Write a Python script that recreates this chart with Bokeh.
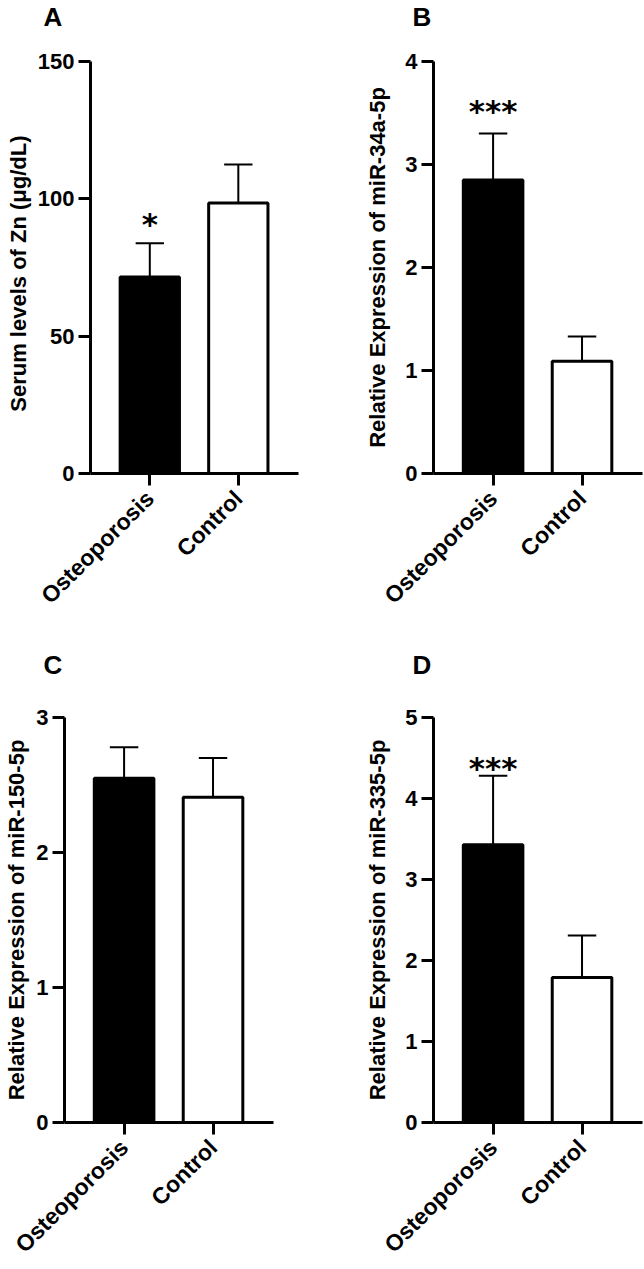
from math import pi

from bokeh.embed import file_html
from bokeh.layouts import column, row
from bokeh.models import FixedTicker, Range1d, Title
from bokeh.plotting import figure
from bokeh.resources import INLINE
from bokeh.core.properties import value

# ---- data -----------------------------------------------------------------
groups = ["Osteoporosis", "Control"]
bar_fill = ["black", "white"]

zn_mean = [71.5, 98.5]          # serum Zn, ug/dL
zn_sem = [12.3, 14.0]
zn_sig = ["*", ""]
zn_ticks = [0, 50, 100, 150]

mir34a_mean = [2.85, 1.09]
mir34a_sem = [0.45, 0.24]
mir34a_sig = ["***", ""]
mir34a_ticks = [0, 1, 2, 3, 4]

mir150_mean = [2.55, 2.41]
mir150_sem = [0.23, 0.29]
mir150_sig = ["", ""]
mir150_ticks = [0, 1, 2, 3]

mir335_mean = [3.43, 1.79]
mir335_sem = [0.85, 0.52]
mir335_sig = ["***", ""]
mir335_ticks = [0, 1, 2, 3, 4, 5]

FONT = "Liberation Sans"
BAR_W = 0.67
CAP_HALF = 0.16


def panel(letter, ylabel, means, sems, sig, ticks, width, height,
          left, right, top, bottom, letter_offset, letter_gap,
          sig_offset, label_standoff):
    p = figure(width=width, height=height, output_backend="svg",
               toolbar_location=None, tools="",
               x_range=Range1d(-0.67, 1.68),
               y_range=Range1d(ticks[0], ticks[-1]),
               min_border_left=left, min_border_right=right,
               min_border_top=top, min_border_bottom=bottom)
    p.outline_line_color = None
    p.grid.visible = False
    p.background_fill_color = "white"
    p.border_fill_color = "white"

    xs = list(range(len(groups)))
    tops = [m + s for m, s in zip(means, sems)]

    # error bars (upper only) with caps
    p.segment(x0=xs, y0=means, x1=xs, y1=tops, line_color="black", line_width=2)
    p.segment(x0=[x - CAP_HALF for x in xs], y0=tops,
              x1=[x + CAP_HALF for x in xs], y1=tops,
              line_color="black", line_width=2)

    p.vbar(x=xs, top=means, bottom=0, width=BAR_W, fill_color=bar_fill,
           line_color="black", line_width=3)

    p.text(x=xs, y=tops, text=sig, text_align="center", text_baseline="middle",
           y_offset=-sig_offset, text_font=value("DejaVu Sans"),
           text_font_style="bold", text_font_size="31px", text_color="black")

    # axes
    for ax in (p.xaxis, p.yaxis):
        ax.axis_line_width = 3
        ax.axis_line_color = "black"
        ax.major_tick_line_width = 3
        ax.major_tick_line_color = "black"
        ax.major_tick_out = 12
        ax.major_tick_in = 0
        ax.minor_tick_line_color = None
        ax.major_label_text_font = FONT
        ax.major_label_text_font_style = "bold"
        ax.major_label_text_color = "black"

    p.xaxis.ticker = FixedTicker(ticks=xs)
    p.xaxis.major_label_overrides = {i: g for i, g in enumerate(groups)}
    p.xaxis.major_label_orientation = pi / 4
    p.xaxis.major_label_standoff = 9
    p.xaxis.major_label_text_font_size = "23px"

    p.yaxis.ticker = FixedTicker(ticks=ticks)
    p.yaxis.major_label_standoff = 4
    p.yaxis.major_label_text_font_size = "22px"
    p.yaxis.axis_label = ylabel
    p.yaxis.axis_label_text_font = FONT
    p.yaxis.axis_label_text_font_style = "bold"
    p.yaxis.axis_label_text_font_size = "22px"
    p.yaxis.axis_label_text_color = "black"
    p.yaxis.axis_label_standoff = label_standoff

    # blank spacer between the frame and the panel letter
    p.add_layout(Title(text=" ", text_font_size="1px", standoff=letter_gap),
                 "above")

    # panel letter as a top-aligned title (outermost in the top panel)
    p.title.text = letter
    p.title.align = "left"
    p.title.vertical_align = "top"
    p.title.offset = letter_offset
    p.title.standoff = 0
    p.title.text_font = FONT
    p.title.text_font_style = "bold"
    p.title.text_font_size = "26px"
    p.title.text_color = "black"
    return p


pa = panel("A", "Serum levels of Zn   (\u03bcg/dL)", zn_mean, zn_sem, zn_sig,
           zn_ticks, 322, 640, 90, 24, 61, 167, -47, 25, 19, 4)
pb = panel("B", "Relative Expression of miR-34a-5p", mir34a_mean, mir34a_sem,
           mir34a_sig, mir34a_ticks, 322, 640, 111, 2, 61, 166, -21, 25, 23, 12)
pc = panel("C", "Relative Expression of miR-150-5p", mir150_mean, mir150_sem,
           mir150_sig, mir150_ticks, 322, 629, 64, 49, 77, 139, -21, 33, 20, 4)
pd = panel("D", "Relative Expression of miR-335-5p", mir335_mean, mir335_sem,
           mir335_sig, mir335_ticks, 322, 629, 111, 2, 77, 139, -21, 33, 8, 12)

layout = column(row(pa, pb), row(pc, pd))

with open("out.html", "w") as f:
    f.write(file_html(layout, INLINE))
